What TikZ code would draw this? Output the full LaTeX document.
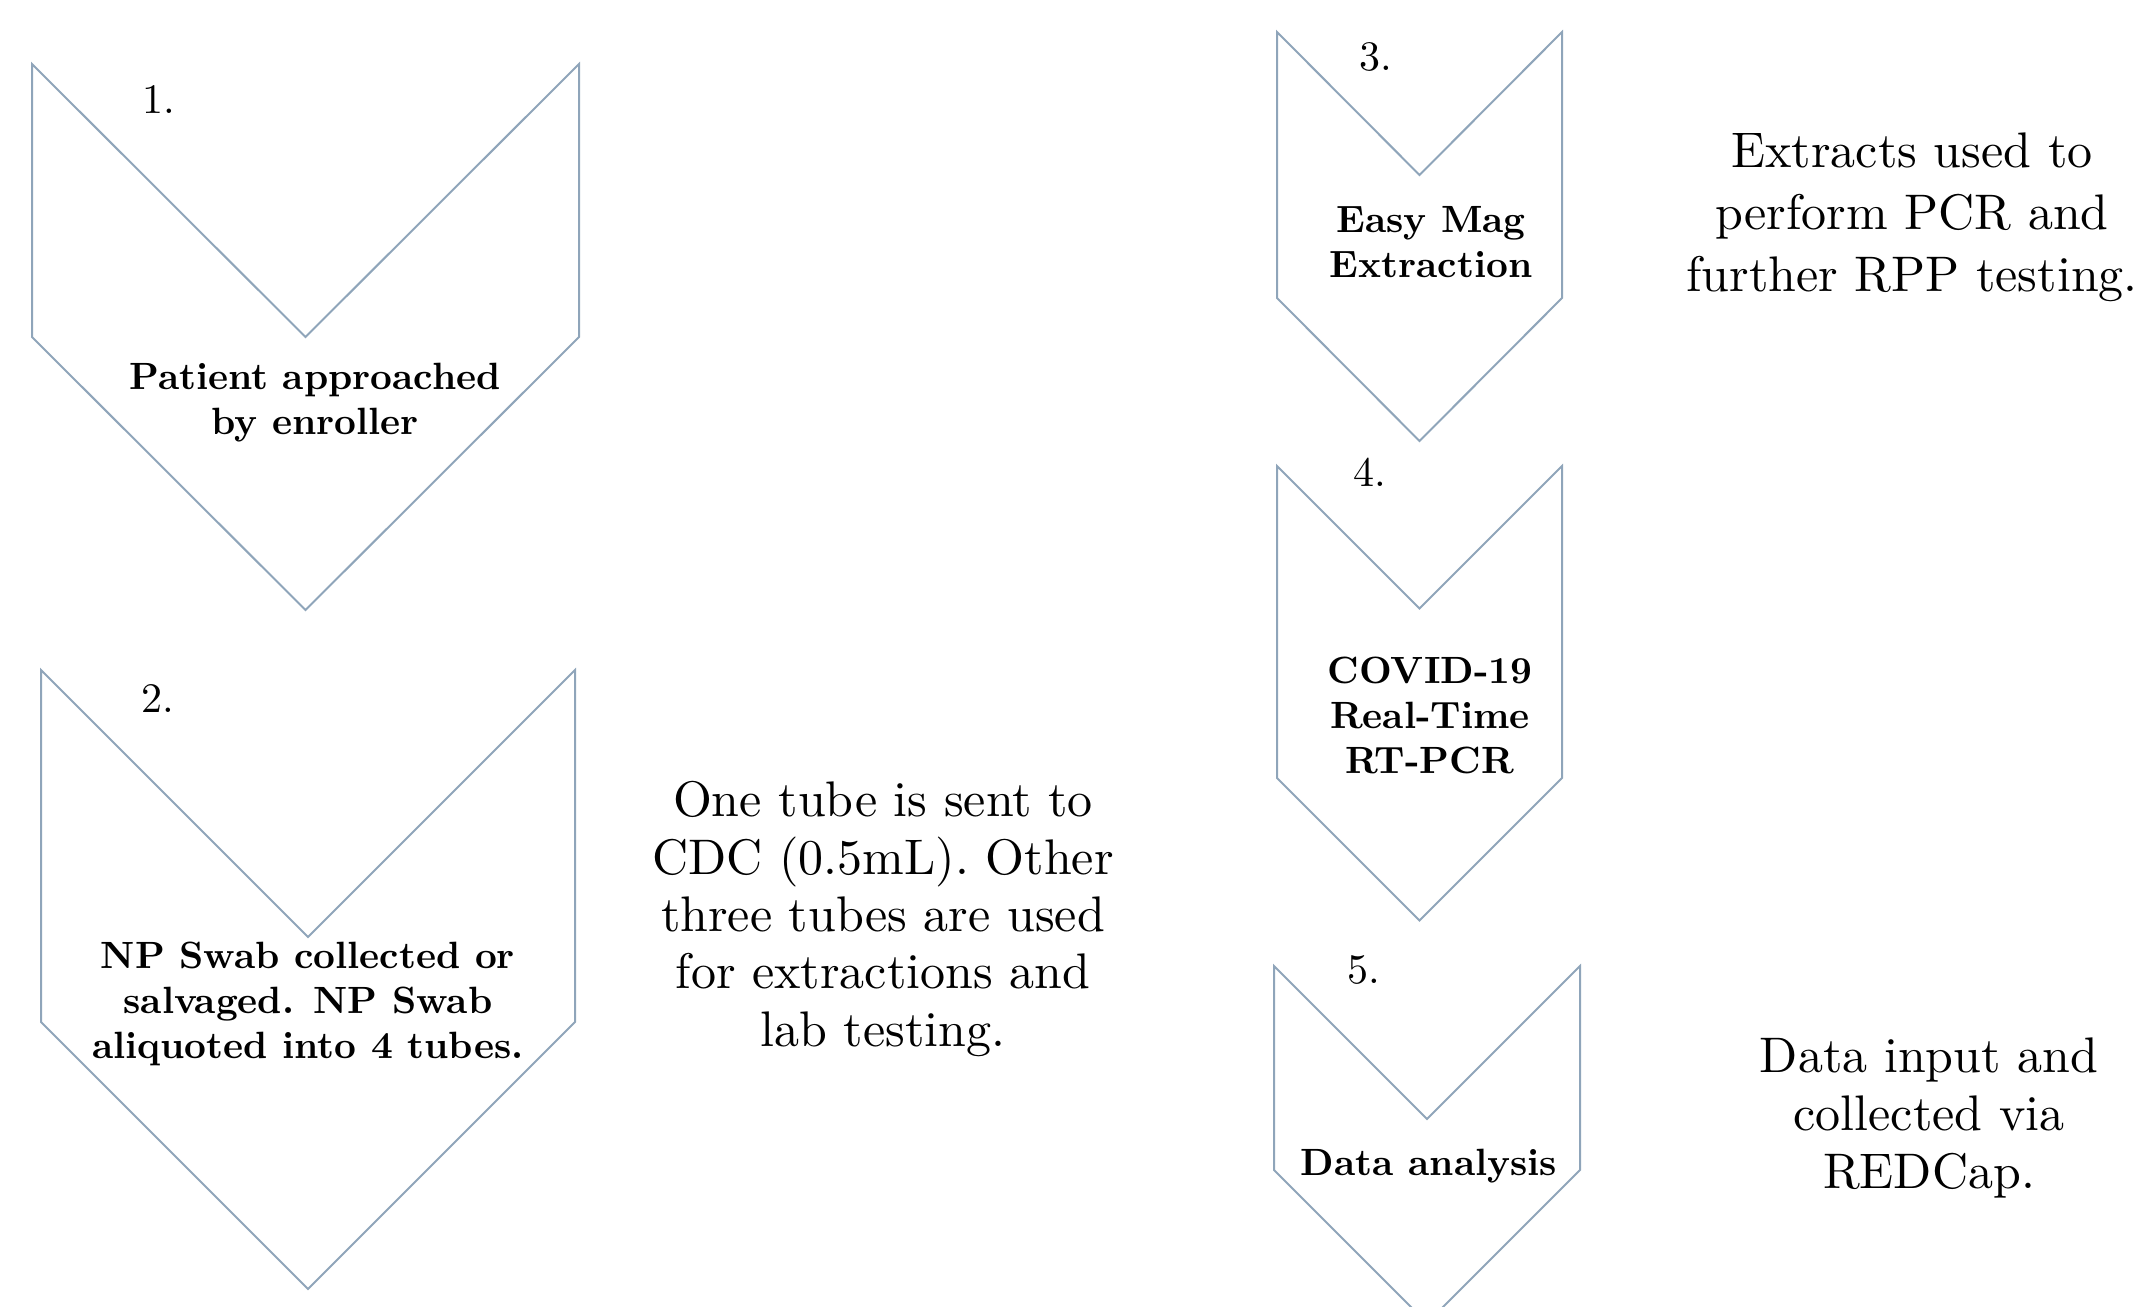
\documentclass[tikz,border=0pt]{standalone}
\usepackage{fontspec}
\setmainfont{lmroman10}[Extension=.otf, UprightFont=*-regular, BoldFont=*-bold, ItalicFont=*-italic, BoldItalicFont=*-bolditalic]
\definecolor{chevcol}{RGB}{143,165,186}
\begin{document}
\begin{tikzpicture}[x=0.5pt,y=-0.5pt,
  chev/.style={draw=chevcol, line width=1pt, line join=miter},
  numlbl/.style={inner sep=0pt, anchor=base, font=\fontsize{21}{25}\selectfont},
  boldtxt/.style={inner sep=0pt, align=center, font=\fontsize{19}{22.5}\selectfont\bfseries},
  desc/.style={inner sep=0pt, align=center}]
\useasboundingbox (0,0) rectangle (2139,1306);
% chevrons
\draw[chev] (32,64) -- (305.5,337) -- (579,64) -- (579,337) -- (305.5,610) -- (32,337) -- cycle;
\draw[chev] (41,670) -- (308,937) -- (575,670) -- (575,1022) -- (308,1289) -- (41,1022) -- cycle;
\draw[chev] (1277,32) -- (1419.5,175) -- (1562,32) -- (1562,298) -- (1419.5,441) -- (1277,298) -- cycle;
\draw[chev] (1277,466) -- (1419.5,608.5) -- (1562,466) -- (1562,778) -- (1419.5,920.5) -- (1277,778) -- cycle;
\draw[chev] (1274,966) -- (1427,1119) -- (1580,966) -- (1580,1170) -- (1427,1323) -- (1274,1170) -- cycle;
% step numbers
\node[numlbl] (n1) at (159,113) {1.};
\node[numlbl] (n2) at (158,712) {2.};
\node[numlbl] (n3) at (1376,70) {3.};
\node[numlbl] (n4) at (1370,486) {4.};
\node[numlbl] (n5) at (1364,983) {5.};
% step texts
\node[boldtxt] (t1) at (315,403) {Patient approached\\by enroller};
\node[boldtxt] (t2) at (308,1004) {NP Swab collected or\\salvaged. NP Swab\\aliquoted into 4 tubes.};
\node[boldtxt] (t3) at (1431,242) {Easy Mag\\Extraction};
\node[boldtxt] (t4) at (1430,715) {COVID-19\\Real-Time\\RT-PCR};
\node[boldtxt] (t5) at (1429,1166) {Data analysis};
% descriptions
\node[desc, font=\fontsize{25}{31}\selectfont] (d3) at (1912,217) {Extracts used to\\perform PCR and\\further RPP testing.};
\node[desc, font=\fontsize{25}{28.7}\selectfont] (d2) at (883,919) {One tube is sent to\\CDC (0.5mL). Other\\three tubes are used\\for extractions and\\lab testing.};
\node[desc, font=\fontsize{25}{29}\selectfont] (d5) at (1929,1118) {Data input and\\collected via\\REDCap.};
\end{tikzpicture}
\end{document}
